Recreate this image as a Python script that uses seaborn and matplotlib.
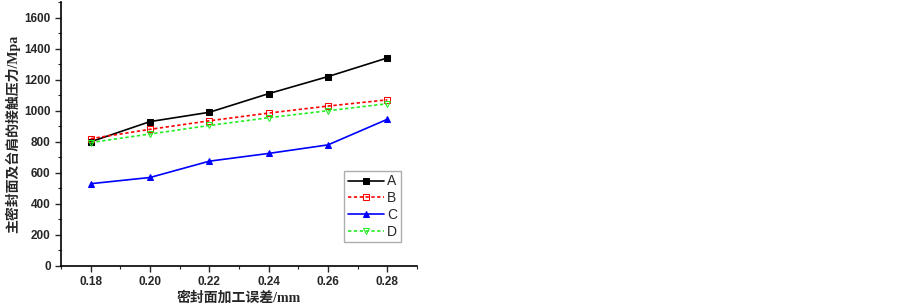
import numpy as np
import pandas as pd
import matplotlib
matplotlib.use("Agg")
import matplotlib.pyplot as plt
import seaborn as sns
from matplotlib.ticker import MultipleLocator

# data
error_mm = [0.18, 0.20, 0.22, 0.24, 0.26, 0.28]
series_a = [800, 930, 990, 1110, 1220, 1340]
series_b = [820, 880, 935, 985, 1030, 1070]
series_c = [530, 570, 675, 725, 780, 945]
series_d = [795, 850, 905, 955, 1000, 1045]
names = ["A", "B", "C", "D"]

sns.set_theme(style="ticks")
plt.rcParams["font.family"] = ["Liberation Sans", "DejaVu Sans"]

styles = {
    "A": dict(color="black", marker="s", mfc="black", dashes=None),
    "B": dict(color="red", marker="s", mfc="none", dashes=(2, 1.5)),
    "C": dict(color="blue", marker="^", mfc="blue", dashes=None),
    "D": dict(color="#22ee22", marker="v", mfc="none", dashes=(2, 1.5)),
}

df = pd.DataFrame({"x": error_mm, "A": series_a, "B": series_b,
                   "C": series_c, "D": series_d})

fig = plt.figure(figsize=(9.03, 3.08), dpi=100)
ax = fig.add_axes([0.0676, 0.1364, 0.3942, 0.857])

for n in names:
    st = styles[n]
    kw = dict(x="x", y=n, data=df, ax=ax, color=st["color"], marker=st["marker"],
              markerfacecolor=st["mfc"], markeredgecolor=st["color"],
              markersize=4.8, linewidth=1.2, label=n)
    if st["dashes"]:
        kw["linestyle"] = (0, st["dashes"])
    sns.lineplot(**kw)

ax.set_xlim(0.17, 0.29)
ax.set_ylim(0, 1700)
ax.set_xticks(error_mm)
ax.set_xticklabels([f"{v:.2f}" for v in error_mm])
ax.set_yticks(np.arange(0, 1601, 200))
ax.xaxis.set_minor_locator(MultipleLocator(0.01))
ax.yaxis.set_minor_locator(MultipleLocator(100))
ax.tick_params(which="major", direction="out", length=4, width=1, labelsize=8.5)
ax.tick_params(which="minor", direction="out", length=2, width=0.8)
for lab in ax.get_xticklabels() + ax.get_yticklabels():
    lab.set_fontweight("bold")

for s in ["top", "right"]:
    ax.spines[s].set_visible(False)
for s in ["left", "bottom"]:
    ax.spines[s].set_linewidth(1.2)
    ax.spines[s].set_color("black")

lab_font = ["Liberation Serif", "Noto Sans CJK SC"]
ax.set_xlabel("密封面加工误差/mm", family=lab_font, fontsize=10, fontweight="bold", labelpad=2)
ax.set_ylabel("主密封面及台肩的接触压力/Mpa", family=lab_font, fontsize=10, fontweight="bold", labelpad=3)

leg = ax.legend(loc="upper left", bbox_to_anchor=(0.795, 0.36), fontsize=10,
                frameon=True, fancybox=False, edgecolor="#999999",
                handlelength=2.6, handletextpad=0.25, borderpad=0.25,
                labelspacing=0.2, borderaxespad=0)
leg.get_frame().set_linewidth(1.0)

fig.savefig("out.png", dpi=100)
